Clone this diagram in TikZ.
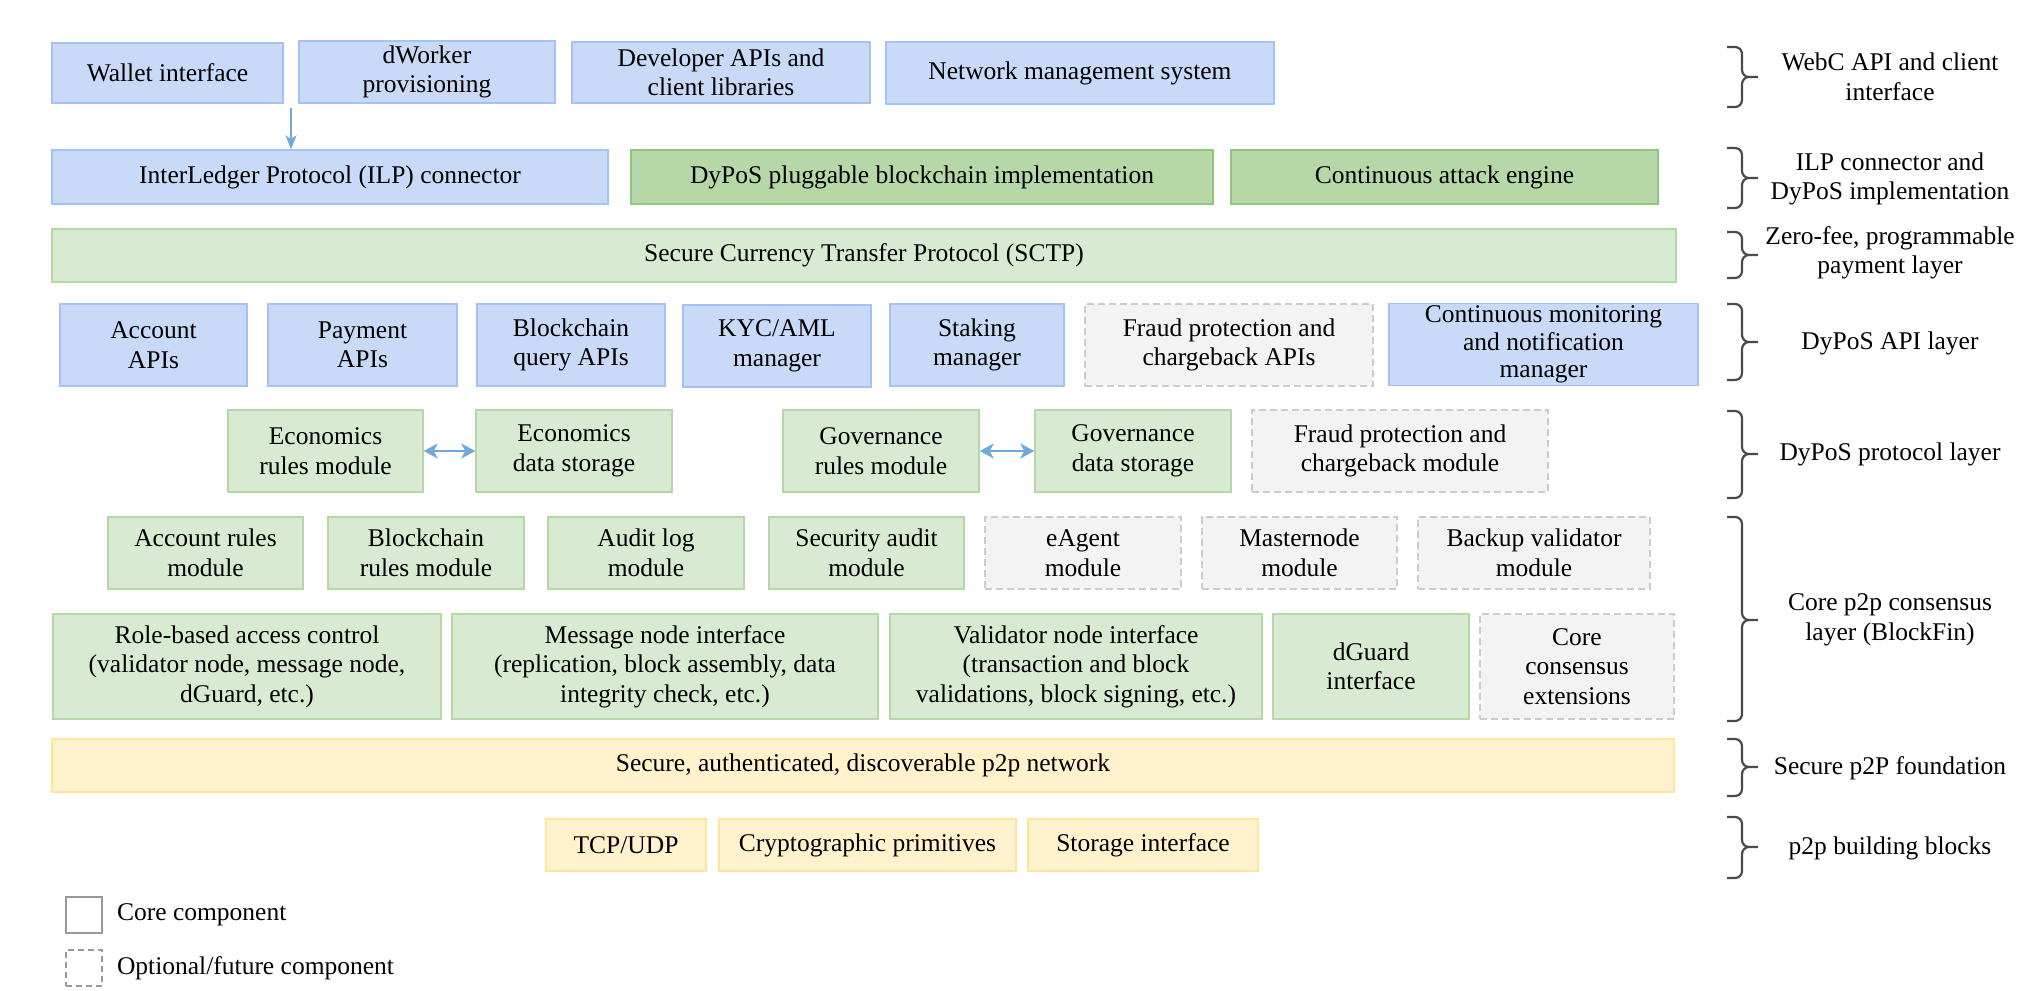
\documentclass[tikz,border=0pt]{standalone}
\usepackage{fontspec}
\setmainfont{Liberation Serif}
\usetikzlibrary{arrows.meta,positioning}

\definecolor{blufill}{HTML}{C9DAF8}
\definecolor{bluline}{HTML}{A4C2F4}
\definecolor{grnfill}{HTML}{B6D7A8}
\definecolor{grnline}{HTML}{93C47D}
\definecolor{lgrnfill}{HTML}{D9EAD3}
\definecolor{lgrnline}{HTML}{B6D7A8}
\definecolor{gryfill}{HTML}{F3F3F3}
\definecolor{gryline}{HTML}{CCCCCC}
\definecolor{yelfill}{HTML}{FFF2CC}
\definecolor{yelline}{HTML}{FFE599}
\definecolor{arrowblue}{HTML}{6FA8DC}
\definecolor{bracegray}{HTML}{4A4A4A}

\begin{document}
\begin{tikzpicture}[x=1pt, y=-1pt, line width=1.5pt,
    font=\fontsize{25.5}{29.5}\selectfont]
    \tikzstyle{box}=[draw, rectangle, align=center, inner xsep=4pt, inner ysep=0pt]
    \tikzstyle{apibox}=[box, fill=blufill, draw=bluline]
    \tikzstyle{implbox}=[box, fill=grnfill, draw=grnline]
    \tikzstyle{modbox}=[box, fill=lgrnfill, draw=lgrnline]
    \tikzstyle{optbox}=[box, fill=gryfill, draw=gryline, dash pattern=on 7pt off 4pt]
    \tikzstyle{netbox}=[box, fill=yelfill, draw=yelline]
    \tikzstyle{flowarrow}=[-{Stealth[length=14pt,width=11pt,inset=4pt]}, draw=arrowblue, fill=arrowblue]
    \tikzstyle{pairarrow}=[{Stealth[length=14pt,width=15pt,inset=4pt]}-{Stealth[length=14pt,width=15pt,inset=4pt]}, draw=arrowblue, fill=arrowblue, line width=2pt]
    \tikzstyle{layerbrace}=[draw=bracegray, line width=2.2pt, rounded corners=7pt]
    \tikzstyle{layertxt}=[align=center]
    \tikzstyle{legsq}=[draw=black!40, line width=2pt, minimum size=36pt, inner sep=0pt]

    \useasboundingbox (0,0) rectangle (2036,990);

    % WebC API and client interface
    \node[apibox, minimum width=231, minimum height=60] (wallet) at (167.5,73) {Wallet interface};
    \node[apibox, minimum width=256, minimum height=62] (dworker) at (427,72) {dWorker\\provisioning};
    \node[apibox, minimum width=298, minimum height=61] (devapi) at (721,72.5) {Developer APIs and\\client libraries};
    \node[apibox, minimum width=388, minimum height=62] (netmgmt) at (1080,73) {Network management system};

    % ILP connector and DyPoS implementation
    \node[apibox, minimum width=556, minimum height=54] (ilp) at (330,177) {InterLedger Protocol (ILP) connector};
    \node[implbox, minimum width=582, minimum height=54] (dypos) at (922,177) {DyPoS pluggable blockchain implementation};
    \node[implbox, minimum width=427, minimum height=54] (attack) at (1444.5,177) {Continuous attack engine};

    % payment layer
    \node[modbox, minimum width=1624, minimum height=53] (sctp) at (864,255.5) {Secure Currency Transfer Protocol (SCTP)};

    % DyPoS API layer
    \node[apibox, minimum width=187, minimum height=82] (acctapi) at (153.5,345) {Account\\APIs};
    \node[apibox, minimum width=189, minimum height=82] (payapi) at (362.5,345) {Payment\\APIs};
    \node[apibox, minimum width=188, minimum height=82] (bcapi) at (571,345) {Blockchain\\query APIs};
    \node[apibox, minimum width=188, minimum height=82] (kyc) at (777,346) {KYC/AML\\manager};
    \node[apibox, minimum width=174, minimum height=82] (staking) at (977,345) {Staking\\manager};
    \node[optbox, minimum width=288, minimum height=82] (fraudapi) at (1229,345) {Fraud protection and\\chargeback APIs};
    \node[apibox, minimum width=309, minimum height=82, font=\fontsize{25.5}{27.5}\selectfont] (monitor) at (1543.5,344.5) {Continuous monitoring\\and notification\\manager};

    % DyPoS protocol layer
    \node[modbox, minimum width=195, minimum height=82] (econrules) at (325.5,451) {Economics\\rules module};
    \node[modbox, minimum width=196, minimum height=82] (econdata) at (574,451) {Economics\\data storage};
    \node[modbox, minimum width=196, minimum height=82] (govrules) at (881,451) {Governance\\rules module};
    \node[modbox, minimum width=196, minimum height=82] (govdata) at (1133,451) {Governance\\data storage};
    \node[optbox, minimum width=296, minimum height=82] (fraudmod) at (1400,451) {Fraud protection and\\chargeback module};

    % core p2p consensus layer
    \node[modbox, minimum width=195, minimum height=72] (acctrules) at (205.5,553) {Account rules\\module};
    \node[modbox, minimum width=196, minimum height=72] (bcrules) at (426,553) {Blockchain\\rules module};
    \node[modbox, minimum width=196, minimum height=72] (audit) at (646,553) {Audit log\\module};
    \node[modbox, minimum width=195, minimum height=72] (secaudit) at (866.5,553) {Security audit\\module};
    \node[optbox, minimum width=196, minimum height=72] (eagent) at (1083,553) {eAgent\\module};
    \node[optbox, minimum width=195, minimum height=72] (masternode) at (1299.5,553) {Masternode\\module};
    \node[optbox, minimum width=232, minimum height=72] (backup) at (1534,553) {Backup validator\\module};

    \node[modbox, minimum width=388, minimum height=105] (rbac) at (247,666.5) {Role-based access control\\(validator node, message node,\\dGuard, etc.)};
    \node[modbox, minimum width=426, minimum height=105] (msgnode) at (665,666.5) {Message node interface\\(replication, block assembly, data\\integrity check, etc.)};
    \node[modbox, minimum width=372, minimum height=105] (valnode) at (1076,666.5) {Validator node interface\\(transaction and block\\validations, block signing, etc.)};
    \node[modbox, minimum width=196, minimum height=105] (dguard) at (1371,666.5) {dGuard\\interface};
    \node[optbox, minimum width=194, minimum height=105] (coreext) at (1577,666.5) {Core\\consensus\\extensions};

    % p2p foundation and building blocks
    \node[netbox, minimum width=1622, minimum height=53] (p2pnet) at (863,765.5) {Secure, authenticated, discoverable p2p network};
    \node[netbox, minimum width=160, minimum height=52] (tcp) at (626,845) {TCP/UDP};
    \node[netbox, minimum width=297, minimum height=52] (crypto) at (867.5,845) {Cryptographic primitives};
    \node[netbox, minimum width=230, minimum height=52] (storage) at (1143,845) {Storage interface};

    % arrows
    \coordinate (walletgap) at (291,108);
    \draw[flowarrow] (walletgap) -- (walletgap |- ilp.north);
    \draw[pairarrow] (econrules) -- (econdata);
    \draw[pairarrow] (govrules) -- (govdata);

    % layer braces
    \draw[layerbrace] (1727,47) -- (1742,47) -- (1742,77) -- (1758,77) (1758,77) -- (1742,77) -- (1742,107) -- (1727,107);
    \draw[layerbrace] (1727,148) -- (1742,148) -- (1742,178) -- (1758,178) (1758,178) -- (1742,178) -- (1742,208) -- (1727,208);
    \draw[layerbrace] (1727,232) -- (1742,232) -- (1742,255) -- (1758,255) (1758,255) -- (1742,255) -- (1742,278) -- (1727,278);
    \draw[layerbrace] (1727,304) -- (1742,304) -- (1742,342) -- (1758,342) (1758,342) -- (1742,342) -- (1742,380) -- (1727,380);
    \draw[layerbrace] (1727,411) -- (1742,411) -- (1742,454) -- (1758,454) (1758,454) -- (1742,454) -- (1742,498) -- (1727,498);
    \draw[layerbrace] (1727,517) -- (1742,517) -- (1742,620) -- (1758,620) (1758,620) -- (1742,620) -- (1742,721) -- (1727,721);
    \draw[layerbrace] (1727,739) -- (1742,739) -- (1742,767) -- (1758,767) (1758,767) -- (1742,767) -- (1742,796) -- (1727,796);
    \draw[layerbrace] (1727,817) -- (1742,817) -- (1742,847) -- (1758,847) (1758,847) -- (1742,847) -- (1742,878) -- (1727,878);

    % layer names
    \node[layertxt] (webclbl) at (1890,77) {WebC API and client\\interface};
    \node[layertxt] (ilplbl) at (1890,179) {ILP connector and\\DyPoS implementation};
    \node[layertxt] (paylbl) at (1890,253) {Zero-fee, programmable\\payment layer};
    \node[layertxt] (apilbl) at (1890,343) {DyPoS API layer};
    \node[layertxt] (protolbl) at (1890,454) {DyPoS protocol layer};
    \node[layertxt] (corelbl) at (1890,620) {Core p2p consensus\\layer (BlockFin)};
    \node[layertxt] (foundlbl) at (1890,768) {Secure p2P foundation};
    \node[layertxt] (blocklbl) at (1890,848) {p2p building blocks};

    % legend
    \node[legsq, fill=white] (legcore) at (84,915) {};
    \node[legsq, dash pattern=on 6pt off 4pt] (legopt) at (84,968) {};
    \node[right=10pt of legcore] (legcoretxt) {Core component};
    \node[right=10pt of legopt] (legopttxt) {Optional/future component};

\end{tikzpicture}
\end{document}
